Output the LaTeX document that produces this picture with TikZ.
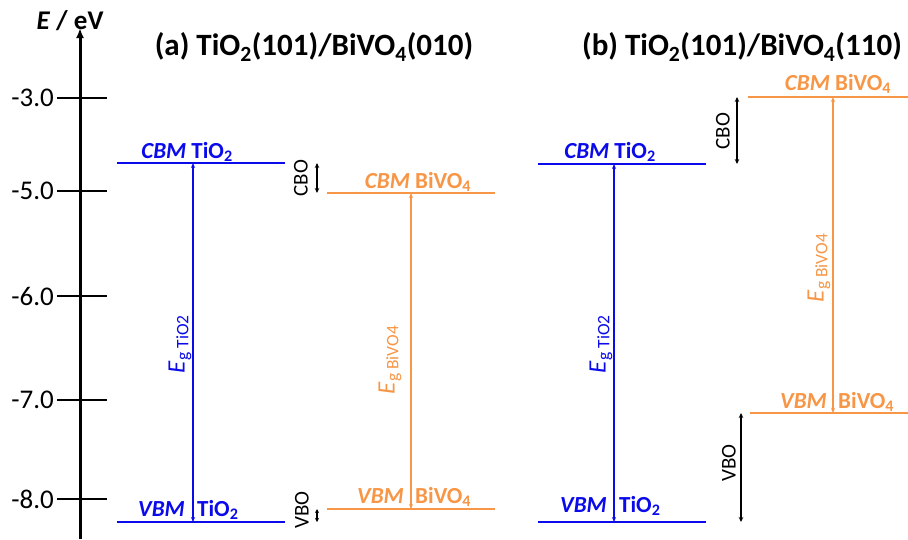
\documentclass[tikz,border=0pt]{standalone}
\usepackage{fontspec}
\setmainfont{Carlito}
\usetikzlibrary{arrows.meta}
\definecolor{tblue}{RGB}{10,10,235}
\definecolor{borange}{RGB}{247,150,70}
\begin{document}
\begin{tikzpicture}[x=1pt,y=-1pt,
  level/.style={line width=2pt},
  gaparrow/.style={line width=1.2pt,{Stealth[length=5pt,width=4pt]}-{Stealth[length=5pt,width=4pt]}},
  offarrow/.style={line width=1.2pt,black,{Stealth[length=5pt,width=4.5pt]}-{Stealth[length=5pt,width=4.5pt]}},
  axtick/.style={line width=2.5pt},
  axlab/.style={font=\fontsize{27}{30}\selectfont, anchor=east, inner sep=0pt},
  lvl/.style={font=\fontsize{23}{26}\selectfont\bfseries, inner sep=0pt, anchor=base},
  lvlL/.style={lvl, anchor=base east},
  lvlR/.style={lvl, anchor=base west},
  title/.style={font=\fontsize{31}{34}\selectfont\bfseries, inner sep=0pt},
  eglab/.style={font=\fontsize{25}{28}\selectfont, rotate=90, inner sep=0pt},
  offlab/.style={font=\fontsize{21}{24}\selectfont, rotate=90, inner sep=0pt}
]
\useasboundingbox (0,0) rectangle (908,539);

% axis
\coordinate (axb) at (80,539);
\coordinate (axt) at (80,28);
\draw[line width=3pt,-{Latex[length=10pt,width=8pt]}] (axb) -- (axt);
\node[font=\fontsize{27}{30}\selectfont\bfseries, inner sep=0pt] (axname) at (70,21) {\textit{E} / eV};
\foreach \y/\t [count=\i] in {98/-3.0,191/-5.0,296/-6.0,400/-7.0,499/-8.0}{
  \coordinate (tl\i) at (57,\y);
  \coordinate (tr\i) at (107,\y);
  \draw[axtick] (tl\i) -- (tr\i);
  \node[axlab] (tk\i) at (54,\y) {\t};
}

% titles
\node[title] (ta) at (314,47) {(a) TiO\textsubscript{2}(101)/BiVO\textsubscript{4}(010)};
\node[title] (tb) at (742,47) {(b) TiO\textsubscript{2}(101)/BiVO\textsubscript{4}(110)};

% ---------- (a) ----------
\coordinate (aCTl) at (117,163); \coordinate (aCTr) at (285,163);
\coordinate (aVTl) at (117,522); \coordinate (aVTr) at (285,522);
\coordinate (aCBl) at (327,193); \coordinate (aCBr) at (495,193);
\coordinate (aVBl) at (327,509); \coordinate (aVBr) at (495,509);
\draw[level,tblue] (aCTl) -- (aCTr);
\draw[level,tblue] (aVTl) -- (aVTr);
\draw[level,borange] (aCBl) -- (aCBr);
\draw[level,borange] (aVBl) -- (aVBr);

\coordinate (aEgTt) at (193,163); \coordinate (aEgTb) at (193,522);
\draw[gaparrow,tblue] (aEgTt) -- (aEgTb);
\coordinate (aEgBt) at (411,193); \coordinate (aEgBb) at (411,509);
\draw[gaparrow,borange] (aEgBt) -- (aEgBb);

\node[lvl,tblue] (aCTlab) at (187,158) {\textit{CBM} TiO\textsubscript{2}};
\node[lvlL,tblue] (aVTlab1) at (185,516) {\textit{VBM}};
\node[lvlR,tblue] (aVTlab2) at (197,516) {TiO\textsubscript{2}};
\node[lvl,borange] (aCBlab) at (418,188) {\textit{CBM} BiVO\textsubscript{4}};
\node[lvlL,borange] (aVBlab1) at (404,503) {\textit{VBM}};
\node[lvlR,borange] (aVBlab2) at (415,503) {BiVO\textsubscript{4}};

\node[eglab,tblue] (aEgT) at (180,344) {\textit{E}\textsubscript{g TiO2}};
\node[eglab,borange] (aEgB) at (390,360) {\textit{E}\textsubscript{g BiVO4}};

\coordinate (aCBOt) at (317,163); \coordinate (aCBOb) at (317,193);
\draw[offarrow] (aCBOt) -- (aCBOb);
\node[offlab] (aCBO) at (301,178) {CBO};
\coordinate (aVBOt) at (317,509); \coordinate (aVBOb) at (317,522);
\draw[offarrow,{Stealth[length=4pt,width=4pt]}-{Stealth[length=4pt,width=4pt]}] (aVBOt) -- (aVBOb);
\node[offlab] (aVBO) at (302,510) {VBO};

% ---------- (b) ----------
\coordinate (bCTl) at (538,164); \coordinate (bCTr) at (706,164);
\coordinate (bVTl) at (538,522); \coordinate (bVTr) at (706,522);
\coordinate (bCBl) at (748,97); \coordinate (bCBr) at (908,97);
\coordinate (bVBl) at (750,413); \coordinate (bVBr) at (908,413);
\draw[level,tblue] (bCTl) -- (bCTr);
\draw[level,tblue] (bVTl) -- (bVTr);
\draw[level,borange] (bCBl) -- (bCBr);
\draw[level,borange] (bVBl) -- (bVBr);

\coordinate (bEgTt) at (614,164); \coordinate (bEgTb) at (614,522);
\draw[gaparrow,tblue] (bEgTt) -- (bEgTb);
\coordinate (bEgBt) at (833,97); \coordinate (bEgBb) at (833,413);
\draw[gaparrow,borange] (bEgBt) -- (bEgBb);

\node[lvl,tblue] (bCTlab) at (610,158) {\textit{CBM} TiO\textsubscript{2}};
\node[lvlL,tblue] (bVTlab1) at (607,512) {\textit{VBM}};
\node[lvlR,tblue] (bVTlab2) at (619,512) {TiO\textsubscript{2}};
\node[lvl,borange] (bCBlab) at (838,90) {\textit{CBM} BiVO\textsubscript{4}};
\node[lvlL,borange] (bVBlab1) at (827,408) {\textit{VBM}};
\node[lvlR,borange] (bVBlab2) at (838,408) {BiVO\textsubscript{4}};

\node[eglab,tblue] (bEgT) at (601,344) {\textit{E}\textsubscript{g TiO2}};
\node[eglab,borange] (bEgB) at (819,268) {\textit{E}\textsubscript{g BiVO4}};

\coordinate (bCBOt) at (737,97); \coordinate (bCBOb) at (737,164);
\draw[offarrow] (bCBOt) -- (bCBOb);
\node[offlab] (bCBO) at (723,131) {CBO};
\coordinate (bVBOt) at (741,413); \coordinate (bVBOb) at (741,522);
\draw[offarrow] (bVBOt) -- (bVBOb);
\node[offlab] (bVBO) at (729,463) {VBO};
\end{tikzpicture}
\end{document}
